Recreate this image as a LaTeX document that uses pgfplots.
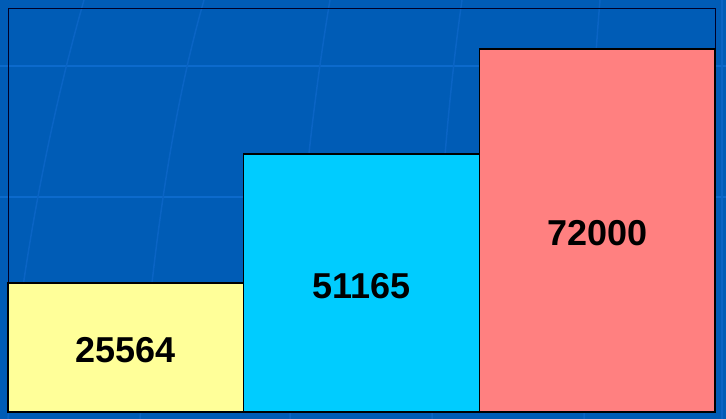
\documentclass[border=0pt]{standalone}
\usepackage{pgfplots}
\pgfplotsset{compat=1.18}
\usepackage{fontspec}
\setmainfont{Liberation Sans}
\definecolor{bgblue}{RGB}{0,92,182}
\definecolor{gridblue}{RGB}{12,106,204}
\definecolor{meridian}{RGB}{10,100,196}
\definecolor{barY}{RGB}{255,255,153}
\definecolor{barC}{RGB}{0,204,255}
\definecolor{barR}{RGB}{255,128,128}
\begin{document}
\begin{tikzpicture}[x=1pt,y=1pt]
\useasboundingbox (0,0) rectangle (726,419);
\fill[bgblue] (0,0) rectangle (726,419);
% decorative background (globe lines)
\draw[gridblue, line width=2pt] (0,419-66) -- (726,419-66);
\draw[gridblue, line width=2pt] (0,419-197) -- (726,419-197);
\draw[meridian, line width=1.5pt] (84,419) .. controls (50,300) and (20,150) .. (8,0);
\draw[meridian, line width=1.5pt] (204,419) .. controls (170,300) and (150,150) .. (140,0);
\draw[meridian, line width=1.5pt] (330,419) .. controls (310,300) and (295,150) .. (290,0);
\draw[meridian, line width=1.5pt] (462,419) .. controls (445,300) and (435,150) .. (432,0);
\draw[meridian, line width=1.5pt] (600,419) .. controls (590,300) and (585,150) .. (584,0);
\draw[meridian, line width=1.5pt] (722,419) -- (722,0);
\begin{axis}[
  at={(8pt,7pt)}, anchor=south west,
  width=707pt, height=404pt, scale only axis,
  xmin=-0.5, xmax=2.5, ymin=0, ymax=80132,
  axis line style={draw=black!85!blue, line width=0.9pt},
  xtick=\empty, ytick=\empty,
  scaled y ticks=false,
  ybar, bar width=1, bar shift=0pt,
  clip=false,
]
\addplot[fill=barY, draw=black, line width=1.6pt] coordinates {(0,25564)};
\addplot[fill=barC, draw=black, line width=1.6pt] coordinates {(1,51165)};
\addplot[fill=barR, draw=black, line width=1.6pt] coordinates {(2,72000)};
\addplot[draw=none, mark=none, nodes near coords, point meta=explicit symbolic,
  every node near coord/.style={anchor=center, yshift=-3pt, font=\fontsize{36}{36}\selectfont\bfseries, text=black}]
  coordinates {(0,12782)[25564] (1,25582)[51165] (2,36000)[72000]};
\end{axis}
\end{tikzpicture}
\end{document}
